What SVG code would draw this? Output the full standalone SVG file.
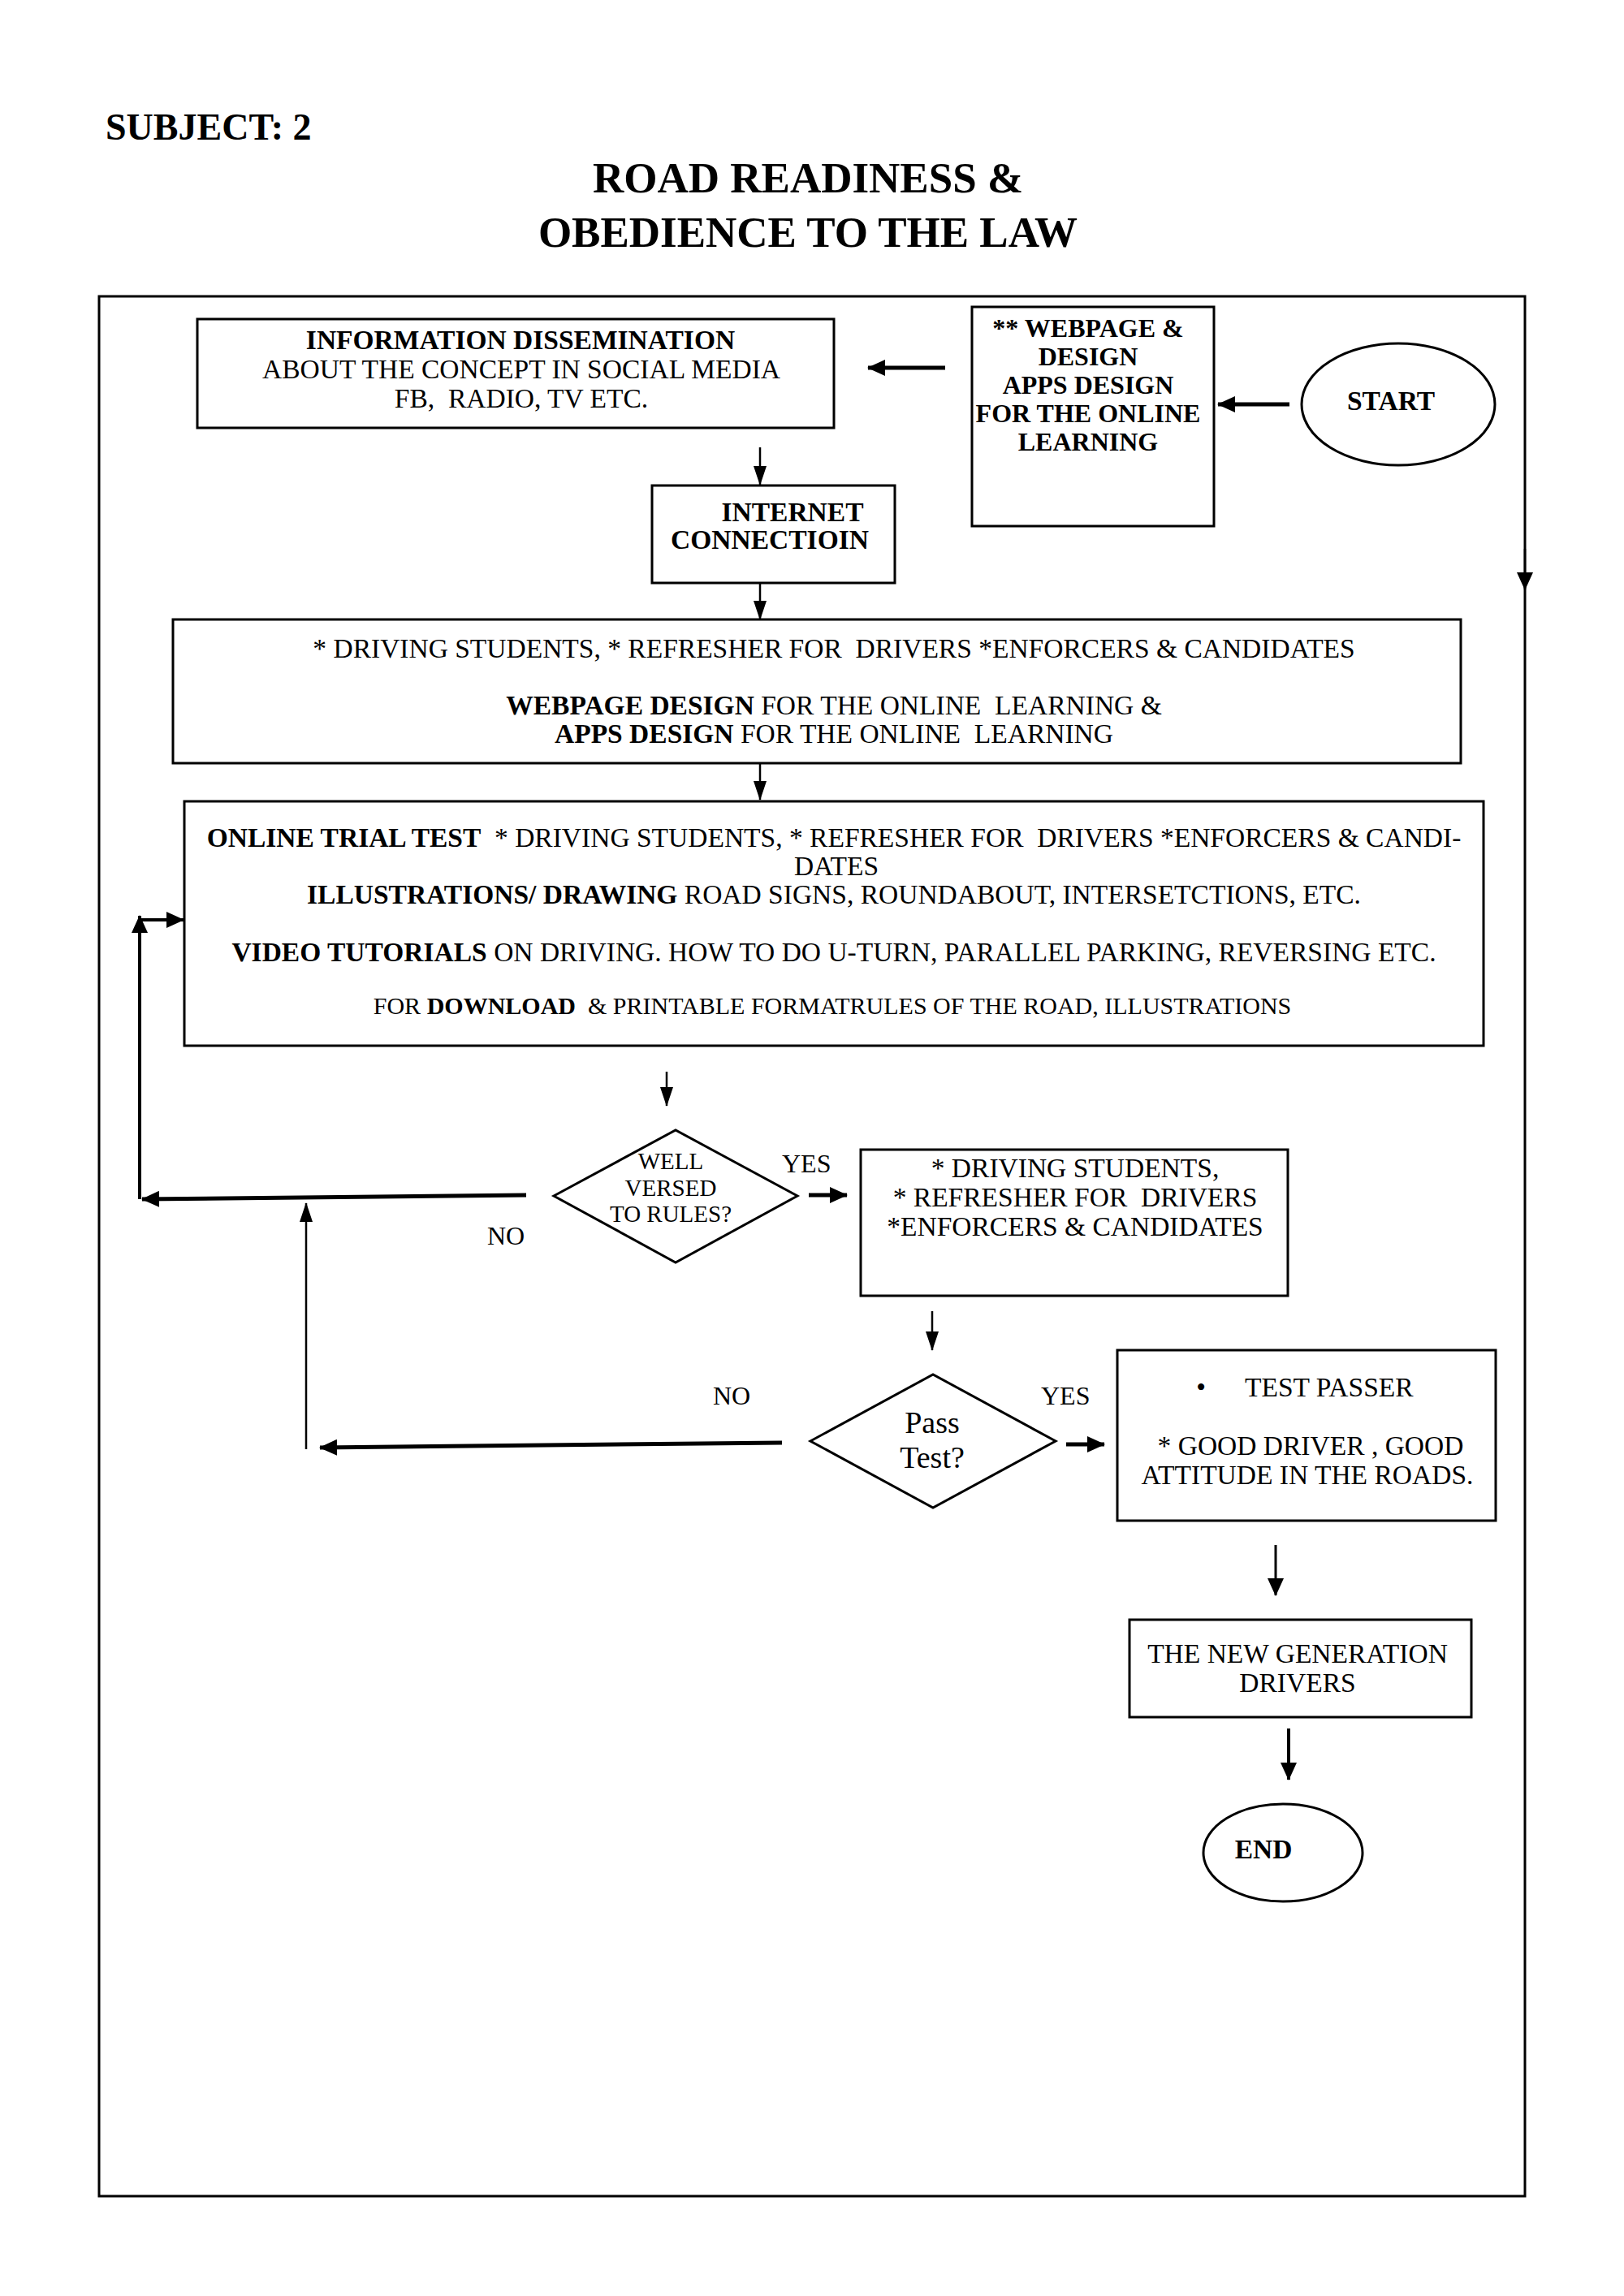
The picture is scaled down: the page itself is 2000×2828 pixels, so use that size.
<svg xmlns="http://www.w3.org/2000/svg" width="2000" height="2828" viewBox="0 0 2000 2828" xml:space="preserve">
<defs>
<style>
text{font-family:"Liberation Serif","Times New Roman",serif;fill:#000;white-space:pre;}
.t{font-size:33.5px;text-anchor:middle;}
.b{font-weight:bold;}
.box{fill:#fff;stroke:#000;stroke-width:3;}
.ln{fill:none;stroke:#000;stroke-width:2.5;}
.thk{fill:none;stroke:#000;stroke-width:5;}
</style>
<marker id="ah" markerUnits="userSpaceOnUse" markerWidth="22" markerHeight="20" refX="21" refY="10" orient="auto"><path d="M0,0 L22,10 L0,20 z" fill="#000"/></marker>
<marker id="ahn" markerUnits="userSpaceOnUse" markerWidth="24" markerHeight="16" refX="23" refY="8" orient="auto"><path d="M0,0 L24,8 L0,16 z" fill="#000"/></marker>
</defs>
<rect width="2000" height="2828" fill="#fff"/>
<g id="titles">
<text x="130" y="172" class="b" style="font-size:46px">SUBJECT: 2</text>
<text x="995" y="237" class="b" style="font-size:53px;text-anchor:middle">ROAD READINESS &amp;</text>
<text x="995" y="304" class="b" style="font-size:53px;text-anchor:middle">OBEDIENCE TO THE LAW</text>
</g>
<rect id="frame" x="122" y="365" width="1756" height="2340" fill="none" stroke="#000" stroke-width="3"/>
<g id="connectors">
<line class="thk" x1="1588" y1="498" x2="1500" y2="498" marker-end="url(#ah)"/>
<line class="thk" x1="1164" y1="453" x2="1069" y2="453" marker-end="url(#ah)"/>
<line class="ln" x1="936" y1="551" x2="936" y2="597" marker-end="url(#ahn)"/>
<line class="ln" x1="936" y1="718" x2="936" y2="763" marker-end="url(#ahn)"/>
<line class="ln" x1="936" y1="940" x2="936" y2="985" marker-end="url(#ahn)"/>
<line class="ln" x1="1878" y1="676" x2="1878" y2="726" marker-end="url(#ah)"/>
<line class="ln" x1="821" y1="1320" x2="821" y2="1362" marker-end="url(#ahn)"/>
<line class="thk" x1="648" y1="1472" x2="175" y2="1477" marker-end="url(#ah)"/>
<line class="thk" x1="996" y1="1472" x2="1043" y2="1472" marker-end="url(#ah)"/>
<line class="ln" x1="172" y1="1477" x2="172" y2="1128" marker-end="url(#ah)" style="stroke-width:4"/>
<line class="ln" x1="172" y1="1133" x2="226" y2="1133" marker-end="url(#ah)" style="stroke-width:4"/>
<line class="ln" x1="377" y1="1785" x2="377" y2="1482" marker-end="url(#ahn)"/>
<line class="ln" x1="1148" y1="1615" x2="1148" y2="1663" marker-end="url(#ahn)"/>
<line class="thk" x1="963" y1="1777" x2="394" y2="1783" marker-end="url(#ah)"/>
<line class="thk" x1="1313" y1="1779" x2="1360" y2="1779" marker-end="url(#ah)"/>
<line class="ln" x1="1571" y1="1903" x2="1571" y2="1965" marker-end="url(#ah)" style="stroke-width:3"/>
<line class="ln" x1="1587" y1="2129" x2="1587" y2="2192" marker-end="url(#ah)" style="stroke-width:4"/>
</g>
<g id="start">
<ellipse cx="1722" cy="498" rx="119" ry="75" class="box"/>
<text x="1713" y="505" class="t b">START</text>
</g>
<g id="webpage">
<rect x="1197" y="378" width="298" height="270" class="box"/>
<text class="b" style="font-size:32px;text-anchor:middle"><tspan x="1340" y="415">** WEBPAGE &amp;</tspan><tspan x="1340" y="450">DESIGN</tspan><tspan x="1340" y="485">APPS DESIGN</tspan><tspan x="1340" y="520">FOR THE ONLINE</tspan><tspan x="1340" y="555">LEARNING</tspan></text>
</g>
<g id="info">
<rect x="243" y="393" width="784" height="134" class="box"/>
<text x="641" y="430" class="t b">INFORMATION DISSEMINATION</text>
<text x="642" y="466" class="t">ABOUT THE CONCEPT IN SOCIAL MEDIA</text>
<text x="642" y="502" class="t">FB,  RADIO, TV ETC.</text>
</g>
<g id="internet">
<rect x="803" y="598" width="299" height="120" class="box"/>
<text x="976" y="642" class="t b">INTERNET</text>
<text x="948" y="676" class="t b">CONNECTIOIN</text>
</g>
<g id="audience">
<rect x="213" y="763" width="1586" height="177" class="box"/>
<text x="1027" y="810" class="t">* DRIVING STUDENTS, * REFRESHER FOR  DRIVERS *ENFORCERS &amp; CANDIDATES</text>
<text x="1027" y="880" class="t"><tspan class="b">WEBPAGE DESIGN</tspan> FOR THE ONLINE  LEARNING &amp;</text>
<text x="1027" y="915" class="t"><tspan class="b">APPS DESIGN</tspan> FOR THE ONLINE  LEARNING</text>
</g>
<g id="trial">
<rect x="227" y="987" width="1600" height="301" class="box"/>
<text x="1027" y="1043" class="t"><tspan class="b">ONLINE TRIAL TEST</tspan>  * DRIVING STUDENTS, * REFRESHER FOR  DRIVERS *ENFORCERS &amp; CANDI-</text>
<text x="1030" y="1078" class="t">DATES</text>
<text x="1027" y="1113" class="t"><tspan class="b">ILLUSTRATIONS/ DRAWING</tspan> ROAD SIGNS, ROUNDABOUT, INTERSETCTIONS, ETC.</text>
<text x="1027" y="1184" class="t"><tspan class="b">VIDEO TUTORIALS</tspan> ON DRIVING. HOW TO DO U-TURN, PARALLEL PARKING, REVERSING ETC.</text>
<text x="1025" y="1249" class="t" style="font-size:30px">FOR <tspan class="b">DOWNLOAD</tspan>  &amp; PRINTABLE FORMATRULES OF THE ROAD, ILLUSTRATIONS</text>
</g>
<g id="wellversed">
<polygon points="682,1473 832,1392 982,1473 832,1555" class="box"/>
<text class="t" style="font-size:29px"><tspan x="826" y="1440">WELL</tspan><tspan x="826" y="1473">VERSED</tspan><tspan x="826" y="1505">TO RULES?</tspan></text>
</g>
<text id="yes1" x="963" y="1444" style="font-size:32px">YES</text>
<text id="no1" x="600" y="1533" style="font-size:32px">NO</text>
<g id="groups">
<rect x="1060" y="1416" width="526" height="180" class="box"/>
<text x="1324" y="1450" class="t">* DRIVING STUDENTS,</text>
<text x="1324" y="1486" class="t">* REFRESHER FOR  DRIVERS</text>
<text x="1324" y="1522" class="t">*ENFORCERS &amp; CANDIDATES</text>
</g>
<g id="passtest">
<polygon points="998,1775 1149,1693 1300,1775 1149,1857" class="box"/>
<text x="1148" y="1765" class="t" style="font-size:38px">Pass</text>
<text x="1148" y="1808" class="t" style="font-size:38px">Test?</text>
</g>
<text id="no2" x="878" y="1730" style="font-size:32px">NO</text>
<text id="yes2" x="1282" y="1730" style="font-size:32px">YES</text>
<g id="passer">
<rect x="1376" y="1663" width="466" height="210" class="box"/>
<text x="1479" y="1720" class="t">•</text>
<text x="1533" y="1720" style="font-size:33.5px">TEST PASSER</text>
<text x="1614" y="1792" class="t">* GOOD DRIVER , GOOD</text>
<text x="1610" y="1828" class="t">ATTITUDE IN THE ROADS.</text>
</g>
<g id="newgen">
<rect x="1391" y="1995" width="421" height="120" class="box"/>
<text x="1598" y="2048" class="t">THE NEW GENERATION</text>
<text x="1598" y="2084" class="t">DRIVERS</text>
</g>
<g id="end">
<ellipse cx="1580" cy="2282" rx="98" ry="60" class="box"/>
<text x="1556" y="2289" class="t b">END</text>
</g>
</svg>
